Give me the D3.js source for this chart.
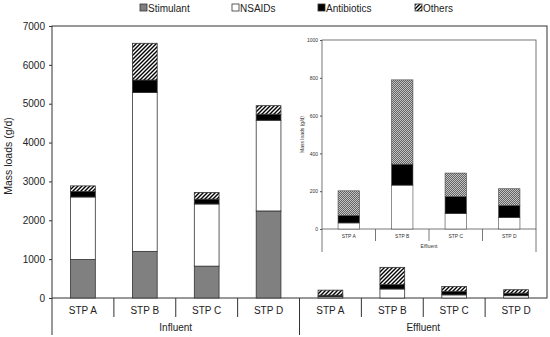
<!DOCTYPE html>
<html lang="en">
<head>
  <meta charset="UTF-8" />
  <title>Mass loads</title>
  <style>
    html, body { margin: 0; padding: 0; background: #fff; }
    svg { display: block; font-family: "Liberation Sans", Arial, sans-serif; }
    .bar { stroke: #333; stroke-width: 0.8px; }
  </style>
  <script src="https://d3js.org/d3.v7.min.js"></script>
</head>
<body>
  <svg id="chart" width="550" height="337"></svg>
  <script>
    // data (g/d)
    const stps = ["STP A", "STP B", "STP C", "STP D"];
    const groups = ["Influent", "Effluent"];
    const series = ["Stimulant", "NSAIDs", "Antibiotics", "Others"];

    const influentStimulant   = [990, 1200, 820, 2240];
    const influentNSAIDs      = [1610, 4090, 1600, 2335];
    const influentAntibiotics = [140, 320, 125, 155];
    const influentOthers      = [145, 945, 170, 220];

    const effluentStimulant   = [0, 0, 0, 0];
    const effluentNSAIDs      = [32, 232, 81, 60];
    const effluentAntibiotics = [40, 111, 91, 65];
    const effluentOthers      = [130, 446, 124, 88];

    const mainTicks = [0, 1000, 2000, 3000, 4000, 5000, 6000, 7000];
    const insetTicks = [0, 200, 400, 600, 800, 1000];

    function rows(stim, nsaid, anti, oth, group) {
      return stps.map((s, i) => ({
        key: group + "|" + s, stp: s, group,
        Stimulant: stim[i], NSAIDs: nsaid[i], Antibiotics: anti[i], Others: oth[i]
      }));
    }
    const influent = rows(influentStimulant, influentNSAIDs, influentAntibiotics, influentOthers, "Influent");
    const effluent = rows(effluentStimulant, effluentNSAIDs, effluentAntibiotics, effluentOthers, "Effluent");
    const allRows = influent.concat(effluent);

    const svg = d3.select("#chart");
    const defs = svg.append("defs");

    // coarse hatch for main chart
    const hatch = defs.append("pattern")
      .attr("id", "hatch").attr("patternUnits", "userSpaceOnUse")
      .attr("width", 4).attr("height", 4);
    hatch.append("rect").attr("width", 4).attr("height", 4).attr("fill", "#fff");
    hatch.append("path").attr("d", "M-1,1 l2,-2 M0,4 l4,-4 M3,5 l2,-2")
      .attr("stroke", "#000").attr("stroke-width", 1.4);

    // fine texture for inset
    const fine = defs.append("pattern")
      .attr("id", "fine").attr("patternUnits", "userSpaceOnUse")
      .attr("width", 2).attr("height", 2);
    fine.append("rect").attr("width", 2).attr("height", 2).attr("fill", "#c4c4c4");
    fine.append("path").attr("d", "M-0.5,0.5 l1,-1 M0,2 l2,-2 M1.5,2.5 l1,-1")
      .attr("stroke", "#3a3a3a").attr("stroke-width", 0.7);

    const fills = { Stimulant: "#808080", NSAIDs: "#fff", Antibiotics: "#000", Others: "url(#hatch)" };
    const insetFills = { Stimulant: "#808080", NSAIDs: "#fff", Antibiotics: "#000", Others: "url(#fine)" };

    const stack = d3.stack().keys(series);

    // ---- main chart ----
    const m = { left: 52, right: 547, top: 26, bottom: 298 };
    const x = d3.scaleBand().domain(allRows.map(d => d.key))
      .range([m.left, m.right]).paddingInner(0).paddingOuter(0);
    const y = d3.scaleLinear().domain([0, 7000]).range([m.bottom, m.top]);
    const bw = x.bandwidth() * 0.4;

    const main = svg.append("g");

    // frame
    main.append("rect").attr("x", m.left).attr("y", m.top)
      .attr("width", m.right - m.left).attr("height", m.bottom - m.top)
      .attr("fill", "none").attr("stroke", "#333").attr("stroke-width", 1);

    main.selectAll("g.layer").data(stack(allRows)).join("g")
      .attr("class", "layer")
      .attr("fill", d => fills[d.key])
      .selectAll("rect").data(d => d.filter(p => p[1] - p[0] > 0)).join("rect")
      .attr("class", "bar")
      .attr("x", d => x(d.data.key) + (x.bandwidth() - bw) / 2)
      .attr("width", bw)
      .attr("y", d => y(d[1]))
      .attr("height", d => y(d[0]) - y(d[1]));

    // y axis
    const yAxis = main.append("g").attr("transform", `translate(${m.left},0)`)
      .call(d3.axisLeft(y).tickValues(mainTicks).tickSize(3).tickPadding(4).tickFormat(d3.format("d")));
    yAxis.select(".domain").remove();
    yAxis.selectAll("line").attr("stroke", "#333");
    yAxis.selectAll("text").attr("font-size", 10).attr("fill", "#222")
      .attr("font-family", "Liberation Sans, Arial, sans-serif");

    main.append("text")
      .attr("transform", "translate(12,156) rotate(-90)")
      .attr("text-anchor", "middle").attr("font-size", 10.5).attr("fill", "#222")
      .text("Mass loads (g/d)");

    // category separators and labels
    const catAxis = main.append("g");
    allRows.forEach((d, i) => {
      const x0 = x(d.key);
      if (i > 0) {
        catAxis.append("line").attr("x1", x0).attr("x2", x0)
          .attr("y1", m.bottom).attr("y2", i === 4 ? 335 : 317)
          .attr("stroke", "#333");
      }
      catAxis.append("text").attr("x", x0 + x.bandwidth() / 2).attr("y", 314)
        .attr("text-anchor", "middle").attr("font-size", 10).attr("fill", "#222")
        .text(d.stp);
    });
    catAxis.append("line").attr("x1", m.left).attr("x2", m.left)
      .attr("y1", m.bottom).attr("y2", 335).attr("stroke", "#333");
    groups.forEach(g => {
      const keys = allRows.filter(d => d.group === g).map(d => d.key);
      const cx = (x(keys[0]) + x(keys[3]) + x.bandwidth()) / 2;
      catAxis.append("text").attr("x", cx).attr("y", 331)
        .attr("text-anchor", "middle").attr("font-size", 10).attr("fill", "#222")
        .text(g);
    });

    // legend
    const legendX = [140, 232, 318, 415];
    const legend = svg.append("g");
    series.forEach((s, i) => {
      legend.append("rect").attr("x", legendX[i]).attr("y", 4).attr("width", 7).attr("height", 7)
        .attr("fill", fills[s]).attr("stroke", "#333").attr("stroke-width", 0.8);
      legend.append("text").attr("x", legendX[i] + 8).attr("y", 12)
        .attr("font-size", 10).attr("fill", "#222").text(s);
    });

    // ---- inset (effluent zoom) ----
    const n = { left: 322, right: 536, top: 40, bottom: 229 };
    const xi = d3.scaleBand().domain(stps).range([n.left, n.right]);
    const yi = d3.scaleLinear().domain([0, 1000]).range([n.bottom, n.top]);
    const bwi = xi.bandwidth() * 0.4;
    const inset = svg.append("g");

    inset.append("rect").attr("x", n.left).attr("y", n.top)
      .attr("width", n.right - n.left).attr("height", n.bottom - n.top)
      .attr("fill", "#fff").attr("stroke", "#555").attr("stroke-width", 0.8);

    inset.selectAll("g.layer").data(stack(effluent)).join("g")
      .attr("fill", d => insetFills[d.key])
      .selectAll("rect").data(d => d.filter(p => p[1] - p[0] > 0)).join("rect")
      .attr("stroke", "#444").attr("stroke-width", 0.6)
      .attr("x", d => xi(d.data.stp) + (xi.bandwidth() - bwi) / 2)
      .attr("width", bwi)
      .attr("y", d => yi(d[1]))
      .attr("height", d => yi(d[0]) - yi(d[1]));

    const yAxisI = inset.append("g").attr("transform", `translate(${n.left},0)`)
      .call(d3.axisLeft(yi).tickValues(insetTicks).tickSize(2).tickPadding(2).tickFormat(d3.format("d")));
    yAxisI.select(".domain").remove();
    yAxisI.selectAll("line").attr("stroke", "#555");
    yAxisI.selectAll("text").attr("font-size", 5).attr("fill", "#333")
      .attr("font-family", "Liberation Sans, Arial, sans-serif");

    inset.append("text")
      .attr("transform", `translate(304,${(n.top + n.bottom) / 2}) rotate(-90)`)
      .attr("text-anchor", "middle").attr("font-size", 5).attr("fill", "#333")
      .text("Mass loads (g/d)");

    stps.forEach((s, i) => {
      const x0 = xi(s);
      if (i > 0) {
        inset.append("line").attr("x1", x0).attr("x2", x0)
          .attr("y1", n.bottom).attr("y2", 241).attr("stroke", "#555").attr("stroke-width", 0.8);
      }
      inset.append("text").attr("x", x0 + xi.bandwidth() / 2).attr("y", 238)
        .attr("text-anchor", "middle").attr("font-size", 5).attr("fill", "#333").text(s);
    });
    [n.left, n.right].forEach(xx => {
      inset.append("line").attr("x1", xx).attr("x2", xx)
        .attr("y1", n.bottom).attr("y2", 252).attr("stroke", "#555").attr("stroke-width", 0.8);
    });
    inset.append("text").attr("x", (n.left + n.right) / 2).attr("y", 248)
      .attr("text-anchor", "middle").attr("font-size", 5).attr("fill", "#333").text("Effluent");
  </script>
</body>
</html>
